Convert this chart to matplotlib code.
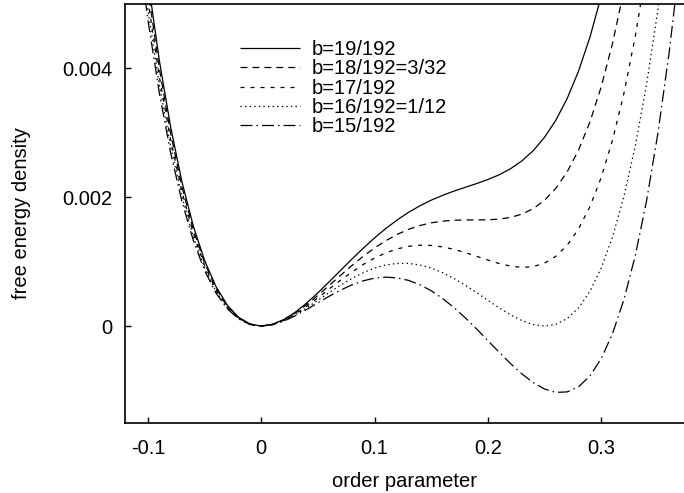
import numpy as np
import matplotlib
matplotlib.use("Agg")
import matplotlib.pyplot as plt

plt.rcParams['font.family'] = ['Liberation Sans', 'DejaVu Sans']
plt.rcParams['lines.scale_dashes'] = False

# order parameter samples
order_param = [-0.12, -0.11, -0.10, -0.09, -0.08, -0.07, -0.06, -0.05, -0.04, -0.03,
               -0.02, -0.01, 0.00, 0.01, 0.02, 0.03, 0.04, 0.05, 0.06, 0.07,
               0.08, 0.09, 0.10, 0.11, 0.12, 0.13, 0.14, 0.15, 0.16, 0.17,
               0.18, 0.19, 0.20, 0.21, 0.22, 0.23, 0.24, 0.25, 0.26, 0.27,
               0.28, 0.29, 0.30, 0.31, 0.32, 0.33, 0.34, 0.35, 0.36, 0.37]

# free energy density, in units of 1e-3
f_b19 = [8.560, 6.840, 5.369, 4.125, 3.088, 2.237, 1.553, 1.017, 0.613, 0.324,
         0.135, 0.032, 0.000, 0.028, 0.103, 0.216, 0.357, 0.517, 0.689, 0.865,
         1.040, 1.209, 1.369, 1.516, 1.648, 1.766, 1.867, 1.955, 2.029, 2.095,
         2.154, 2.212, 2.275, 2.349, 2.443, 2.564, 2.723, 2.930, 3.196, 3.534,
         3.957, 4.480, 5.119, 5.889, 6.807, 7.893, 9.164, 10.642, 12.348, 14.303]
f_b18 = [8.335, 6.651, 5.213, 3.999, 2.988, 2.160, 1.496, 0.978, 0.588, 0.310,
         0.129, 0.030, 0.000, 0.026, 0.097, 0.202, 0.332, 0.478, 0.632, 0.788,
         0.940, 1.083, 1.213, 1.327, 1.423, 1.502, 1.561, 1.603, 1.629, 1.643,
         1.648, 1.648, 1.650, 1.660, 1.687, 1.738, 1.823, 1.953, 2.140, 2.395,
         2.732, 3.166, 3.713, 4.387, 5.207, 6.191, 7.358, 8.728, 10.323, 12.164]
f_b17 = [8.110, 6.462, 5.056, 3.872, 2.888, 2.084, 1.440, 0.939, 0.563, 0.296,
         0.123, 0.029, 0.000, 0.025, 0.091, 0.188, 0.307, 0.439, 0.576, 0.712,
         0.840, 0.956, 1.056, 1.138, 1.198, 1.238, 1.255, 1.252, 1.229, 1.191,
         1.141, 1.084, 1.025, 0.971, 0.931, 0.911, 0.923, 0.977, 1.083, 1.256,
         1.507, 1.852, 2.306, 2.885, 3.607, 4.489, 5.552, 6.814, 8.298, 10.025]
f_b16 = [7.885, 6.273, 4.900, 3.745, 2.788, 2.007, 1.384, 0.900, 0.538, 0.282,
         0.117, 0.027, 0.000, 0.023, 0.085, 0.174, 0.282, 0.400, 0.520, 0.635,
         0.740, 0.829, 0.900, 0.949, 0.973, 0.973, 0.949, 0.900, 0.829, 0.740,
         0.635, 0.520, 0.400, 0.282, 0.174, 0.085, 0.023, 0.000, 0.027, 0.117,
         0.282, 0.538, 0.900, 1.384, 2.007, 2.788, 3.745, 4.900, 6.273, 7.885]
f_b15 = [7.660, 6.084, 4.744, 3.619, 2.688, 1.931, 1.328, 0.861, 0.513, 0.268,
         0.110, 0.025, 0.000, 0.021, 0.078, 0.160, 0.257, 0.361, 0.464, 0.558,
         0.640, 0.703, 0.744, 0.760, 0.748, 0.709, 0.642, 0.548, 0.429, 0.288,
         0.129, -0.044, -0.225, -0.407, -0.582, -0.742, -0.877, -0.977, -1.029, -1.022,
         -0.943, -0.776, -0.506, -0.118, 0.407, 1.086, 1.939, 2.986, 4.248, 5.746]

labels = ["b=19/192", "b=18/192=3/32", "b=17/192", "b=16/192=1/12", "b=15/192"]
x_ticks = [-0.1, 0, 0.1, 0.2, 0.3]
x_ticklabels = ["-0.1", "0", "0.1", "0.2", "0.3"]
y_ticks = [0, 0.002, 0.004]
y_ticklabels = ["0", "0.002", "0.004"]

fs = 14.5
fig = plt.figure(figsize=(6.84, 4.93), dpi=100)
ax = fig.add_axes([125/684, 1-422.7/493, 1-125/684, (422.7-4)/493])

series = [f_b19, f_b18, f_b17, f_b16, f_b15]
styles = [(0, ()), (0, (5.0, 3.6)), (0, (2.9, 4.3)), (0, (1.0, 2.3)), (0, (8.6, 2.9, 1.1, 2.9))]
for ys, lab, ls in zip(series, labels, styles):
    ax.plot(order_param, np.array(ys) * 1e-3, color='black', lw=0.9, linestyle=ls, label=lab)

ax.set_xlim(-0.1203, 0.3731)
ax.set_ylim(-0.0015, 0.005)
ax.set_xticks(x_ticks)
ax.set_xticklabels(x_ticklabels)
ax.set_yticks(y_ticks)
ax.set_yticklabels(y_ticklabels)
ax.tick_params(direction='in', length=4.3, width=1, labelsize=fs, pad=9)
ax.tick_params(axis='x', pad=12)
ax.spines['right'].set_visible(False)
for s in ['left', 'bottom', 'top']:
    ax.spines[s].set_linewidth(1.2)

fig.text(22/684, 1-213/493, "free energy density", rotation=90, fontsize=fs,
         ha='center', va='center')
fig.text(405/684, 1-487/493, "order parameter", fontsize=fs, ha='center', va='baseline')

ax.legend(loc='upper left', bbox_to_anchor=(240/684, 1-40/493), bbox_transform=fig.transFigure,
          frameon=False, fontsize=fs, handlelength=3.0, handletextpad=0.55,
          labelspacing=0.015, borderpad=0, borderaxespad=0)

fig.savefig("out.png", dpi=100)
